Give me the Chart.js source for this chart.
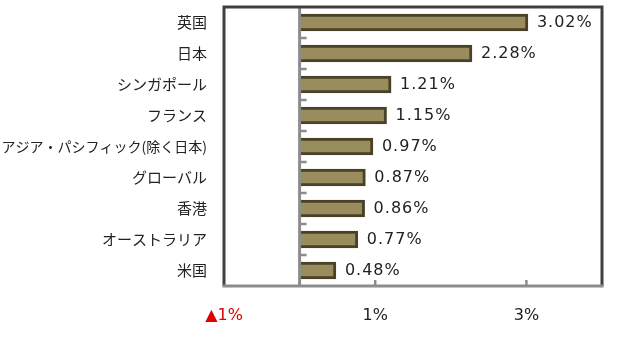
<!DOCTYPE html>
<html>
<head>
<meta charset="utf-8">
<script src="https://cdn.jsdelivr.net/npm/chart.js@4"></script>
<style>
  html, body { margin: 0; padding: 0; background: #fff; }
  #wrap { width: 628px; height: 338px; }
</style>
</head>
<body>
<div id="wrap"><canvas id="result"></canvas></div>
<script>
const categories = ['英国', '日本', 'シンガポール', 'フランス', 'アジア・パシフィック(除く日本)', 'グローバル', '香港', 'オーストラリア', '米国'];
const values = [3.02, 2.28, 1.21, 1.15, 0.97, 0.87, 0.86, 0.77, 0.48];
const xTickValues = [-1, 1, 3];

const labelFont = '16px "DejaVu Sans", Verdana, sans-serif';

function fmtPct(v) {
    return v < 0 ? '▲' + Math.abs(v) + '%' : v + '%';
}

// frame, zero line, small ticks, value labels
const framePlugin = {
    id: 'frame',
    afterDatasetsDraw(chart) {
        const { ctx, chartArea: a, scales } = chart;
        const x0 = scales.x.getPixelForValue(0);
        ctx.save();
        ctx.strokeStyle = '#8c8c8c';
        // little ticks on the zero line at category boundaries
        ctx.lineWidth = 2.5;
        const n = categories.length;
        const step = (a.bottom - a.top) / n;
        for (let i = 1; i < n; i++) {
            const y = Math.round(a.top + step * i);
            ctx.beginPath();
            ctx.moveTo(x0, y);
            ctx.lineTo(x0 + 7, y);
            ctx.stroke();
        }
        // ticks on the bottom axis
        xTickValues.forEach(v => {
            if (v <= 0) return;
            const x = scales.x.getPixelForValue(v);
            ctx.beginPath();
            ctx.moveTo(x, a.bottom);
            ctx.lineTo(x, a.bottom - 6);
            ctx.stroke();
        });
        // zero line
        ctx.lineWidth = 3;
        ctx.beginPath();
        ctx.moveTo(x0, a.top);
        ctx.lineTo(x0, a.bottom);
        ctx.stroke();
        // dark border left/top/right
        ctx.strokeStyle = '#404040';
        ctx.beginPath();
        ctx.moveTo(a.left, a.bottom);
        ctx.lineTo(a.left, a.top);
        ctx.lineTo(a.right, a.top);
        ctx.lineTo(a.right, a.bottom);
        ctx.stroke();
        // gray bottom
        ctx.strokeStyle = '#8c8c8c';
        ctx.beginPath();
        ctx.moveTo(a.left - 1.5, a.bottom);
        ctx.lineTo(a.right + 1.5, a.bottom);
        ctx.stroke();

        // value labels
        ctx.fillStyle = '#222';
        ctx.font = labelFont;
        ctx.letterSpacing = '1px';
        ctx.textBaseline = 'middle';
        ctx.textAlign = 'left';
        chart.getDatasetMeta(0).data.forEach((bar, i) => {
            ctx.fillText(values[i].toFixed(2) + '%', bar.x + 9, bar.y);
        });
        ctx.restore();
    }
};

const data = {
    labels: categories,
    datasets: [{
        data: values,
        backgroundColor: '#998d5d',
        borderColor: '#4a4228',
        borderWidth: 3,
        borderSkipped: 'start',
        barThickness: 17
    }]
};

const config = {
    type: 'bar',
    data: data,
    options: {
        indexAxis: 'y',
        responsive: true,
        maintainAspectRatio: false,
        animation: false,
        layout: { padding: { top: 7, right: 26, left: 0, bottom: 0 } },
        plugins: {
            legend: { display: false },
            tooltip: { enabled: false }
        },
        scales: {
            x: {
                min: -1,
                max: 4,
                afterBuildTicks(scale) {
                    scale.ticks = xTickValues.map(v => ({ value: v }));
                },
                afterFit(scale) {
                    scale.height = 52;
                    scale.paddingLeft = 0;
                    scale.paddingRight = 0;
                },
                grid: { display: false, drawTicks: false },
                border: { display: false },
                ticks: {
                    padding: 20,
                    font: { family: '"DejaVu Sans", Verdana, sans-serif', size: 16 },
                    color: ctx => ctx.tick && ctx.tick.value < 0 ? '#e00000' : '#222',
                    callback: v => fmtPct(v)
                }
            },
            y: {
                afterFit(scale) {
                    scale.width = 224;
                    scale.paddingTop = 0;
                    scale.paddingBottom = 0;
                },
                grid: { display: false, drawTicks: false },
                border: { display: false },
                ticks: {
                    padding: 17,
                    font: ctx => ({
                        family: '"Noto Sans CJK JP", sans-serif',
                        size: ctx.tick && ctx.tick.label && ctx.tick.label.length > 10 ? 14 : 15
                    }),
                    color: '#222'
                }
            }
        }
    },
    plugins: [framePlugin]
};

window.addEventListener('DOMContentLoaded', () => {
    new Chart(document.getElementById('result'), config);
});
</script>
</body>
</html>
